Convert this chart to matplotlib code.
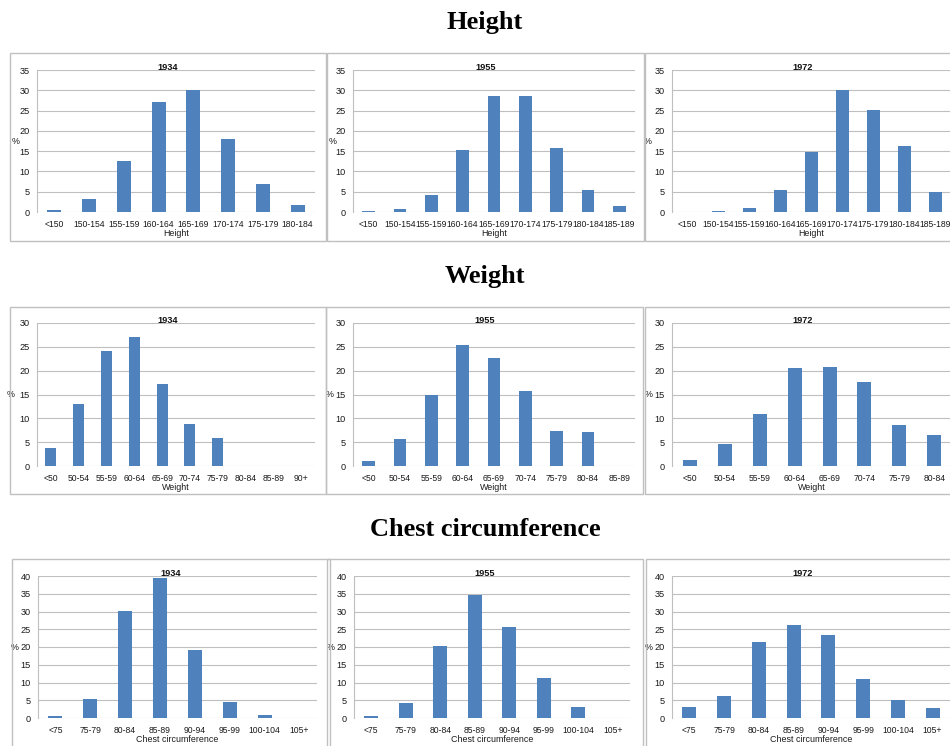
import matplotlib.pyplot as plt
from matplotlib.patches import Rectangle

# figure size in pixels, all positions below are pixel based
W, H = 950, 746

height_cats = ['<150', '150-154', '155-159', '160-164', '165-169',
               '170-174', '175-179', '180-184', '185-189']
height_1934 = [0.6, 3.2, 12.5, 27.0, 30.1, 17.9, 6.8, 1.7]
height_1955 = [0.3, 0.7, 4.1, 15.4, 28.5, 28.5, 15.7, 5.3, 1.5]
height_1972 = [0.0, 0.3, 1.0, 5.4, 14.9, 30.0, 25.1, 16.3, 5.0]

weight_cats = ['<50', '50-54', '55-59', '60-64', '65-69', '70-74',
               '75-79', '80-84', '85-89', '90+']
weight_1934 = [3.7, 13.1, 24.2, 27.0, 17.2, 8.8, 5.8, 0, 0, 0]
weight_1955 = [1.0, 5.6, 14.9, 25.3, 22.6, 15.8, 7.4, 7.2, 0]
weight_1972 = [1.3, 4.7, 11.0, 20.6, 20.7, 17.6, 8.5, 6.4]

chest_cats = ['<75', '75-79', '80-84', '85-89', '90-94', '95-99',
              '100-104', '105+']
chest_1934 = [0.7, 5.3, 30.2, 39.4, 19.1, 4.4, 0.8, 0]
chest_1955 = [0.5, 4.1, 20.4, 34.6, 25.6, 11.3, 3.0, 0]
chest_1972 = [3.0, 6.2, 21.5, 26.2, 23.4, 11.1, 5.2, 2.8]

years = ['1934', '1955', '1972']

BLUE = '#4F81BD'
GRID = '#BFBFBF'
FONT = 'Liberation Sans'

fig = plt.figure(figsize=(W / 100, H / 100), dpi=100)


def panel(box, area, cats, values, year, ymax, xlabel, title_y, pct_dx):
    """one Excel-like bar chart with its grey frame"""
    bx0, by0, bx1, by1 = box
    fig.add_artist(Rectangle((bx0 / W, 1 - by1 / H), (bx1 - bx0) / W, (by1 - by0) / H,
                             transform=fig.transFigure, fill=False,
                             edgecolor='#C0C0C0', linewidth=1.0))
    x0, y0, x1, y1 = area
    ax = fig.add_axes([x0 / W, 1 - y1 / H, (x1 - x0) / W, (y1 - y0) / H])
    n = len(values)
    ax.bar(range(n), values, width=0.4, color=BLUE, zorder=3)
    ax.set_xlim(-0.5, n - 0.5)
    ax.set_ylim(0, ymax)
    ax.set_yticks(range(0, ymax + 1, 5))
    ax.set_xticks(range(n))
    ax.set_xticklabels(cats[:n])
    ax.yaxis.grid(True, color=GRID, linewidth=0.8, zorder=0)
    ax.set_axisbelow(True)
    for s in ['top', 'right', 'bottom']:
        ax.spines[s].set_visible(False)
    ax.spines['left'].set_color(GRID)
    ax.spines['left'].set_linewidth(0.8)
    ax.tick_params(axis='both', length=0, colors='#1a1a1a')
    ax.tick_params(axis='x', pad=6, labelsize=6.2)
    ax.tick_params(axis='y', pad=5, labelsize=6.6)
    for lab in ax.get_xticklabels() + ax.get_yticklabels():
        lab.set_fontfamily(FONT)
    ax.set_xlabel(xlabel, fontsize=6.4, family=FONT, labelpad=0, color='#1a1a1a')
    ax.text(pct_dx / (x1 - x0), 0.5, '%', transform=ax.transAxes, ha='center',
            va='center', fontsize=6.4, family=FONT, color='#1a1a1a')
    fig.text((bx0 + bx1) / 2 / W, 1 - title_y / H, year, ha='center', va='center',
             fontsize=6.6, family=FONT, fontweight='bold', color='#111111')
    return ax


def section(title, title_y, cats, series, ymax, xlabel, boxes, areas, ty, dxs):
    fig.text(485 / W, 1 - title_y / H, title, ha='center', va='center',
             fontsize=19, family='Liberation Serif', fontweight='bold')
    for box, area, vals, yr, dx in zip(boxes, areas, series, years, dxs):
        panel(box, area, cats, vals, yr, ymax, xlabel, ty, dx)


section('Height', 23, height_cats, [height_1934, height_1955, height_1972], 35, 'Height',
        [(10, 53, 326, 241), (327, 53, 644, 241), (645, 53, 960, 241)],
        [(37, 70, 315, 212), (353, 70, 635, 212), (672, 70, 951, 212)],
        67, [-21, -20, -24])

section('Weight', 277, weight_cats, [weight_1934, weight_1955, weight_1972], 30, 'Weight',
        [(10, 307, 326, 494), (326, 307, 643, 494), (645, 307, 960, 494)],
        [(37, 323, 315, 466), (353, 323, 635, 466), (672, 323, 952, 466)],
        320, [-26, -23, -23])

section('Chest circumference', 530, chest_cats, [chest_1934, chest_1955, chest_1972], 40,
        'Chest circumference',
        [(12, 559, 330, 760), (327, 559, 643, 760), (646, 559, 960, 760)],
        [(38, 576, 317, 718), (354, 576, 630, 718), (672, 576, 950, 718)],
        573, [-23, -23, -23])

fig.savefig('out.png', dpi=100)
